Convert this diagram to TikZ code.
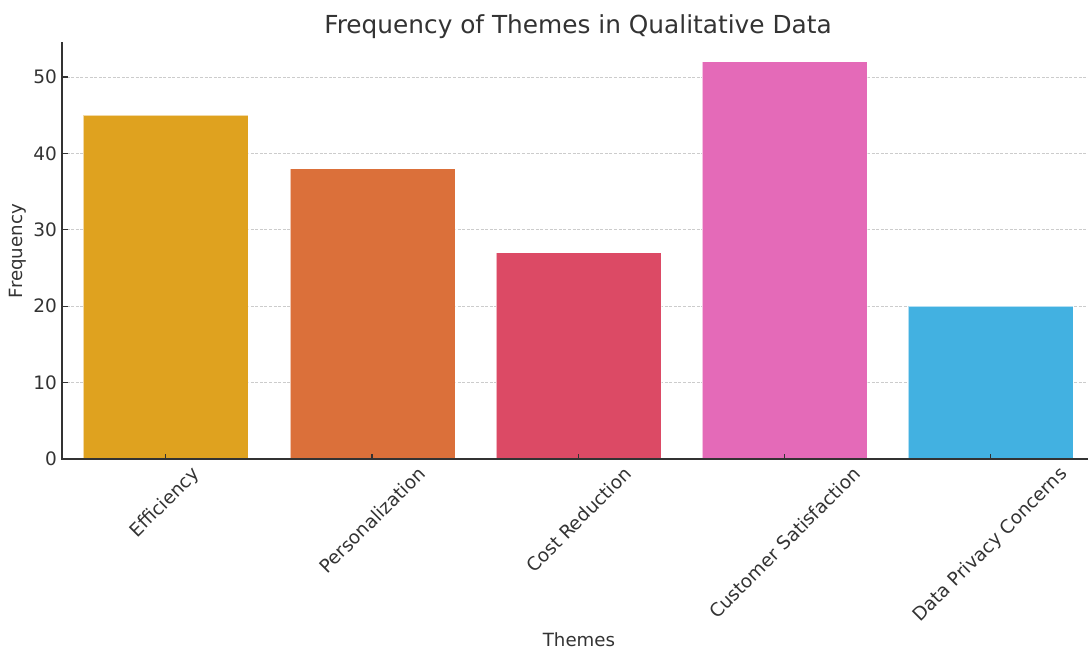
\documentclass[tikz,border=0pt]{standalone}
\usepackage{fontspec}
\usepackage{graphicx}
\setmainfont{DejaVu Sans}
\definecolor{txt}{HTML}{333333}
\definecolor{gridc}{HTML}{CCCCCC}
\definecolor{cEff}{HTML}{DFA21F}
\definecolor{cPer}{HTML}{DB703A}
\definecolor{cCost}{HTML}{DC4A65}
\definecolor{cCust}{HTML}{E46AB8}
\definecolor{cData}{HTML}{42B1E1}
\tikzset{
  bar/.style={draw=white, draw opacity=0.6, line width=0.8pt},
  gridline/.style={draw=gridc, line width=0.8pt, dash pattern=on 3pt off 1.6pt},
  spine/.style={draw=txt, line width=1.6pt},
  tickmark/.style={draw=txt, line width=1.1pt},
  ticklab/.style={text=txt, font=\fontsize{18.5}{18.5}\selectfont, inner sep=0pt},
  axlab/.style={text=txt, font=\fontsize{18.2}{18.2}\selectfont, inner sep=0pt},
  titlelab/.style={text=txt, font=\fontsize{24.8}{24.8}\selectfont, inner sep=0pt}
}
\begin{document}
\begin{tikzpicture}[x=1pt,y=-1pt]
\useasboundingbox (0,0) rectangle (1088,653);
% grid
\foreach \v in {10,20,30,40,50} {
  \coordinate (gl\v) at (62,{459-7.64*\v});
  \coordinate (gr\v) at (1088,{459-7.64*\v});
  \draw[gridline] (gl\v) -- (gr\v);
}
% bars
\fill[cEff]  (83,459)  rectangle (248,{459-7.64*45});
\fill[cPer]  (290,459) rectangle (455,{459-7.64*38});
\fill[cCost] (496,459) rectangle (661,{459-7.64*27});
\fill[cCust] (702,459) rectangle (867,{459-7.64*52});
\fill[cData] (908,459) rectangle (1073,{459-7.64*20});
\draw[bar] (83,459)  rectangle (248,{459-7.64*45});
\draw[bar] (290,459) rectangle (455,{459-7.64*38});
\draw[bar] (496,459) rectangle (661,{459-7.64*27});
\draw[bar] (702,459) rectangle (867,{459-7.64*52});
\draw[bar] (908,459) rectangle (1073,{459-7.64*20});
% spines
\coordinate (ytop) at (62,42);
\coordinate (orig) at (62,459);
\coordinate (xend) at (1088,459);
\draw[spine] (ytop) -- (orig) -- (xend);
% y ticks
\foreach \v in {0,10,20,30,40,50} {
  \coordinate (yt\v) at (62,{459-7.64*\v});
  \coordinate (yu\v) at (67.5,{459-7.64*\v});
  \draw[tickmark] (yt\v) -- (yu\v);
  \node[ticklab, anchor=east] (yl\v) at (57,{459-7.64*\v}) {\v};
}
% x ticks and labels
\foreach \c/\lab/\n in {165.5/Efficiency/a, 372/Personalization/b, 578.5/Cost Reduction/c, 784.5/Customer Satisfaction/d, 990.5/Data Privacy Concerns/e} {
  \coordinate (xt\n) at (\c,459);
  \coordinate (xu\n) at (\c,453.5);
  \draw[tickmark] (xt\n) -- (xu\n);
  \node[ticklab, anchor=north] (xl\n) at (\c,465) {\rotatebox{45}{\lab}};
}
% axis labels and title
\node[axlab] (ylab) at (18,251) {\rotatebox{90}{Frequency}};
\node[axlab, anchor=base] (xlab) at (579,646) {Themes};
\node[titlelab, anchor=base] (title) at (578,33) {Frequency of Themes in Qualitative Data};
\end{tikzpicture}
\end{document}
